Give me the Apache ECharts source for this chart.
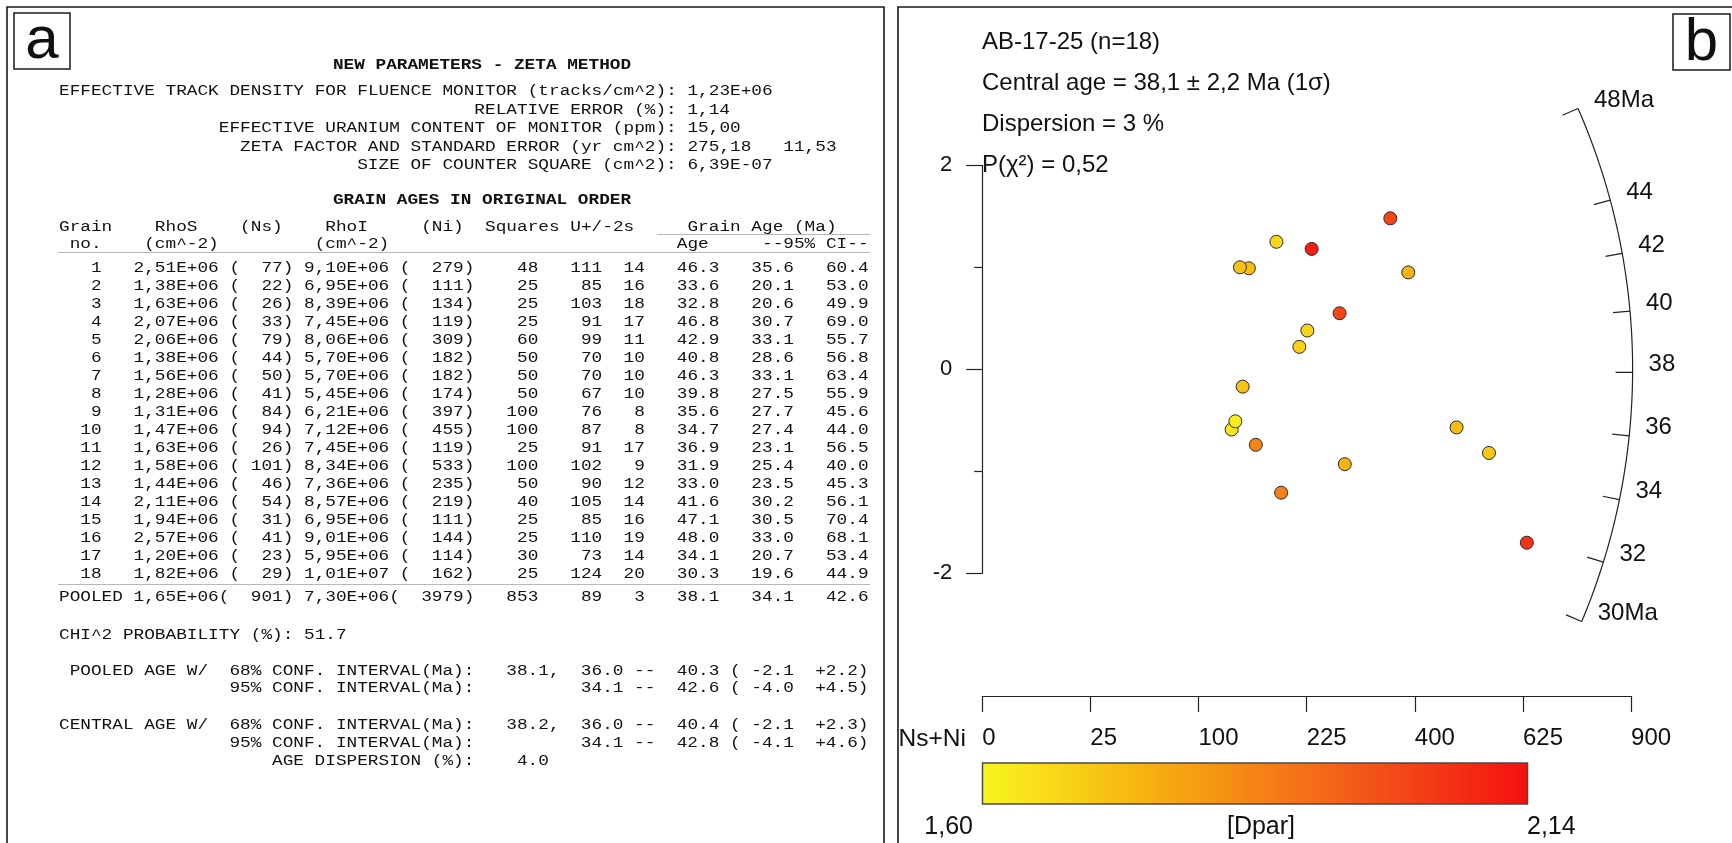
<!DOCTYPE html>
<html>
<head>
<meta charset="utf-8">
<title>AB-17-25 zeta ages and radial plot</title>
<script src="https://cdn.jsdelivr.net/npm/echarts@6.0.0/dist/echarts.min.js"></script>
<style>
html,body{margin:0;padding:0;background:#fff;}
#chart{width:1732px;height:843px;}
</style>
</head>
<body>
<div id="chart"></div>
<script>
// ---------------- DATA ----------------
const grainNo   = [1,2,3,4,5,6,7,8,9,10,11,12,13,14,15,16,17,18];
const rhoS      = ['2,51E+06','1,38E+06','1,63E+06','2,07E+06','2,06E+06','1,38E+06','1,56E+06','1,28E+06','1,31E+06','1,47E+06','1,63E+06','1,58E+06','1,44E+06','2,11E+06','1,94E+06','2,57E+06','1,20E+06','1,82E+06'];
const ns        = [77,22,26,33,79,44,50,41,84,94,26,101,46,54,31,41,23,29];
const rhoI      = ['9,10E+06','6,95E+06','8,39E+06','7,45E+06','8,06E+06','5,70E+06','5,70E+06','5,45E+06','6,21E+06','7,12E+06','7,45E+06','8,34E+06','7,36E+06','8,57E+06','6,95E+06','9,01E+06','5,95E+06','1,01E+07'];
const ni        = [279,111,134,119,309,182,182,174,397,455,119,533,235,219,111,144,114,162];
const squares   = [48,25,25,25,60,50,50,50,100,100,25,100,50,40,25,25,30,25];
const uPpm      = [111,85,103,91,99,70,70,67,76,87,91,102,90,105,85,110,73,124];
const u2s       = [14,16,18,17,11,10,10,10,8,8,17,9,12,14,16,19,14,20];
const grainAge  = ['46.3','33.6','32.8','46.8','42.9','40.8','46.3','39.8','35.6','34.7','36.9','31.9','33.0','41.6','47.1','48.0','34.1','30.3'];
const ciLow     = ['35.6','20.1','20.6','30.7','33.1','28.6','33.1','27.5','27.7','27.4','23.1','25.4','23.5','30.2','30.5','33.0','20.7','19.6'];
const ciHigh    = ['60.4','53.0','49.9','69.0','55.7','56.8','63.4','55.9','45.6','44.0','56.5','40.0','45.3','56.1','70.4','68.1','53.4','44.9'];

const pooledRow = ['1,65E+06', 901, '7,30E+06', 3979, 853, 89, 3, '38.1', '34.1', '42.6'];

const monitorParams = [
  ['EFFECTIVE TRACK DENSITY FOR FLUENCE MONITOR (tracks/cm^2):', '1,23E+06'],
  ['RELATIVE ERROR (%):', '1,14'],
  ['EFFECTIVE URANIUM CONTENT OF MONITOR (ppm):', '15,00'],
  ['ZETA FACTOR AND STANDARD ERROR (yr cm^2):', '275,18   11,53'],
  ['SIZE OF COUNTER SQUARE (cm^2):', '6,39E-07']
];
const chi2Prob        = '51.7';
const pooledAge68     = ['38.1,', '36.0', '40.3', '-2.1', '+2.2'];
const pooledAge95     = ['34.1', '42.6', '-4.0', '+4.5'];
const centralAge68    = ['38.2,', '36.0', '40.4', '-2.1', '+2.3'];
const centralAge95    = ['34.1', '42.8', '-4.1', '+4.6'];
const ageDispersion   = '4.0';

// radial plot (panel b)
const stdEstimate = [1.48,-0.59,-0.74,0.99,0.95,0.38,1.18,0.22,-0.57,-0.82,-0.17,-1.70,-0.93,0.55,1.00,1.25,-0.51,-1.21];
const dpar        = [2.02,1.63,1.87,1.735,1.76,1.68,2.11,1.69,1.73,1.71,1.72,2.06,1.76,2.02,1.72,1.67,1.62,1.88];
const sampleInfo  = ['AB-17-25 (n=18)', 'Central age = 38,1 \u00b1 2,2 Ma (1\u03c3)', 'Dispersion = 3 %', 'P(\u03c7\u00b2) = 0,52'];
const centralAge  = 38.1;
const pooledAge   = 38.1;
const ageTicks      = [30,32,34,36,38,40,42,44,48];
const ageTickLabels = ['30Ma','32','34','36','38','40','42','44','48Ma'];
const arcRadius     = 30.07;
const precTicks     = [0,5,10,15,20,25,30];
const nsNiTickLabels = ['0','25','100','225','400','625','900'];
const dparRange     = [1.60, 2.14];
const dparRangeLabels = ['1,60', '2,14'];
const dparColors = ['#f9f41f','#f8d91a','#f7bd12','#f6a112','#f58416','#f46818','#f34b18','#f32e14','#f50f10'];

// ---------------- HELPERS ----------------
const MONO = '"Liberation Mono","DejaVu Sans Mono",monospace';
const SANS = '"Liberation Sans",Arial,sans-serif';
const X0 = 59, CW = 10.65, MFS = 15.5, MSX = CW / (0.6 * MFS);

function pad(v, n){ v = String(v); while (v.length < n) v = ' ' + v; return v; }
function place(tokens){
  const arr = [];
  tokens.forEach(([s, c]) => {
    while (arr.length < c) arr.push(' ');
    for (let i = 0; i < s.length; i++) arr[c + i] = s[i];
  });
  for (let i = 0; i < arr.length; i++) if (arr[i] === undefined) arr[i] = ' ';
  return arr.join('');
}
function txt(style){ return Object.assign({align: style.textAlign, verticalAlign: style.textVerticalAlign}, style); }
function mono(str, col, y, bold){
  return {type:'text', x: X0 + col * CW, y: y, scaleX: MSX, silent: true,
    style: txt({text: str, font: (bold ? 'bold ' : '') + MFS + 'px ' + MONO, fill: '#111', textAlign: 'left', textVerticalAlign: 'middle'})};
}
function monoCenter(str, cx, y, bold){
  return {type:'text', x: cx, y: y, scaleX: MSX, silent: true,
    style: txt({text: str, font: (bold ? 'bold ' : '') + MFS + 'px ' + MONO, fill: '#111', textAlign: 'center', textVerticalAlign: 'middle'})};
}
function sans(str, x, y, size, align){
  return {type:'text', x: x, y: y, silent: true,
    style: txt({text: str, font: size + 'px ' + SANS, fill: '#111', textAlign: align || 'left', textVerticalAlign: 'middle'})};
}
function hline(x1, x2, y, color, w){
  return {type:'line', silent:true, shape:{x1:x1, y1:y, x2:x2, y2:y}, style:{stroke:color, lineWidth:w}};
}

// ---------------- PANEL A TEXT ----------------
const g = [];
g.push({type:'rect', silent:true, shape:{x:7, y:7, width:877, height:900}, style:{fill:'none', stroke:'#1a1a1a', lineWidth:1.6}});
g.push({type:'rect', silent:true, shape:{x:898, y:7, width:900, height:900}, style:{fill:'none', stroke:'#1a1a1a', lineWidth:1.6}});
g.push({type:'rect', silent:true, shape:{x:14, y:13, width:56, height:56}, style:{fill:'#fff', stroke:'#1a1a1a', lineWidth:1.5}});
g.push(sans('a', 42, 41, 60, 'center'));
g.push({type:'rect', silent:true, shape:{x:1673, y:14, width:57, height:56}, style:{fill:'#fff', stroke:'#1a1a1a', lineWidth:1.5}});
g.push(sans('b', 1701.5, 43, 60, 'center'));

g.push(monoCenter('NEW PARAMETERS - ZETA METHOD', 482, 65.5, true));
monitorParams.forEach((p, i) => {
  g.push(mono(place([[p[0], 58 - p[0].length], [p[1], 59]]).trimStart(), 58 - p[0].length, 91 + 18.5 * i));
});
g.push(monoCenter('GRAIN AGES IN ORIGINAL ORDER', 482, 200.5, true));

g.push(mono(place([['Grain',0],['RhoS',9],['(Ns)',17],['RhoI',25],['(Ni)',34],['Squares',40],['U+/-2s',48],['Grain Age (Ma)',59]]), 0, 227));
g.push(mono(place([['no.',1],['(cm^-2)',8],['(cm^-2)',24],['Age',58],['--95% CI--',66]]), 0, 244));
g.push(hline(657, 870, 234.5, '#b8b8b8', 1));
g.push(hline(58, 870, 252.5, '#b8b8b8', 1));

grainNo.forEach((n, i) => {
  const row = pad(n,4) + '   ' + rhoS[i] + ' (' + pad(ns[i],4) + ') ' + rhoI[i] + ' (' + pad(ni[i],5) + ')' +
    pad(squares[i],6) + pad(uPpm[i],6) + pad(u2s[i],4) + pad(grainAge[i],7) + pad(ciLow[i],7) + pad(ciHigh[i],7);
  g.push(mono(row, 0, 267.5 + 18 * i));
});
g.push(hline(58, 870, 584.5, '#b8b8b8', 1));
const pr = pooledRow;
g.push(mono('POOLED ' + pr[0] + '(' + pad(pr[1],5) + ') ' + pr[2] + '(' + pad(pr[3],6) + ')' +
  pad(pr[4],6) + pad(pr[5],6) + pad(pr[6],4) + pad(pr[7],7) + pad(pr[8],7) + pad(pr[9],7), 0, 596.5));

g.push(mono('CHI^2 PROBABILITY (%): ' + chi2Prob, 0, 634.5));
function ci68(a){ return place([[a[0],42],[a[1],49],['--',54],[a[2],58],['(',63],[a[3],65],[a[4]+')',71]]).slice(42); }
function ci95(a){ return place([[a[0],49],['--',54],[a[1],58],['(',63],[a[2],65],[a[3]+')',71]]).slice(49); }
g.push(mono(place([['POOLED AGE W/',1],['68% CONF. INTERVAL(Ma):',16]]).trimStart(), 1, 671));
g.push(mono(ci68(pooledAge68), 42, 671));
g.push(mono('95% CONF. INTERVAL(Ma):', 16, 688));
g.push(mono(ci95(pooledAge95), 49, 688));
g.push(mono(place([['CENTRAL AGE W/',0],['68% CONF. INTERVAL(Ma):',16]]), 0, 724.5));
g.push(mono(ci68(centralAge68), 42, 724.5));
g.push(mono('95% CONF. INTERVAL(Ma):', 16, 742.5));
g.push(mono(ci95(centralAge95), 49, 742.5));
g.push(mono('AGE DISPERSION (%):', 20, 760.5));
g.push(mono(ageDispersion, 43, 760.5));

// ---------------- PANEL B TEXT ----------------
const infoY = [42, 83, 124.5, 165.5];
sampleInfo.forEach((s, i) => g.push(sans(s, 982, infoY[i], 24, 'left')));
g.push(sans('Ns+Ni', 966, 739, 24.5, 'right'));

// colour bar (same colours as the visualMap that colours the points)
const stops = dparColors.map((c, i) => ({offset: i / (dparColors.length - 1), color: c}));
g.push({type:'rect', silent:true, shape:{x:982.5, y:763, width:545, height:41},
  style:{fill: new echarts.graphic.LinearGradient(0,0,1,0,stops), stroke:'#4a4a4a', lineWidth:1.5}});
g.push(sans(dparRangeLabels[0], 973, 827, 25, 'right'));
g.push(sans('[Dpar]', 1261, 827, 25, 'center'));
g.push(sans(dparRangeLabels[1], 1527, 827, 25, 'left'));

// ---------------- RADIAL PLOT GEOMETRY ----------------
const ratioPerMa = (pooledRow[1] / pooledRow[3]) / pooledAge;
function zOf(t){ const r = ratioPerMa * t; return Math.asin(Math.sqrt(r / (1 + r))); }
function geom(api){
  const o = api.coord([0,0]), px = api.coord([1,0]), py = api.coord([0,1]);
  return {o: o, ux: px[0] - o[0], uy: o[1] - py[1]};
}
function agePoint(t, gm, rad){
  const phi = Math.atan(2 * (zOf(t) - zOf(centralAge)) * gm.uy / gm.ux);
  return [gm.o[0] + rad * Math.cos(phi), gm.o[1] - rad * Math.sin(phi), phi];
}

const points = grainNo.map((n, i) => [Math.sqrt(ns[i] + ni[i]), stdEstimate[i], dpar[i], n]);

const GL = 982.2, GW = 648.9;
const option = {
  animation: false,
  backgroundColor: '#ffffff',
  grid: [
    {left: GL, top: 165.3, width: GW, height: 408, outerBoundsMode: 'none', containLabel: false},
    {left: GL, top: 680, width: GW, height: 16, outerBoundsMode: 'none', containLabel: false}
  ],
  xAxis: [
    {gridIndex: 0, type: 'value', min: 0, max: 30, show: false},
    {gridIndex: 1, type: 'value', min: 0, max: 30, interval: 5, position: 'bottom',
      axisLine: {show: true, onZero: false, lineStyle: {color: '#222', width: 1.2}},
      axisTick: {show: true, length: 16, lineStyle: {color: '#222', width: 1.2}},
      splitLine: {show: false},
      axisLabel: {show: true, align: 'left', margin: 30, color: '#111', fontSize: 24, fontFamily: SANS,
        formatter: v => { const k = precTicks.indexOf(v); return k >= 0 ? nsNiTickLabels[k] : ''; }}}
  ],
  yAxis: [
    {gridIndex: 0, type: 'value', min: -2, max: 2, interval: 2,
      axisLine: {show: true, onZero: false, lineStyle: {color: '#222', width: 1.2}},
      axisTick: {show: true, length: 16, lineStyle: {color: '#222', width: 1.2}},
      minorTick: {show: true, splitNumber: 2, length: 8, lineStyle: {color: '#222', width: 1.2}},
      splitLine: {show: false}, minorSplitLine: {show: false},
      axisLabel: {show: true, margin: 30, color: '#111', fontSize: 22, fontFamily: SANS}},
    {gridIndex: 1, type: 'value', show: false, min: 0, max: 1}
  ],
  visualMap: {
    type: 'continuous', show: false, min: dparRange[0], max: dparRange[1],
    dimension: 2, seriesIndex: 0, inRange: {color: dparColors}
  },
  series: [
    {type: 'scatter', xAxisIndex: 0, yAxisIndex: 0, data: points, symbol: 'circle', symbolSize: 13,
      itemStyle: {borderColor: '#2a2a2a', borderWidth: 1, opacity: 1}, silent: true, z: 5},
    {type: 'custom', xAxisIndex: 0, yAxisIndex: 0, data: [[0, 0]], silent: true, clip: false,
      renderItem: (params, api) => {
        const gm = geom(api), R = arcRadius * gm.ux, pts = [];
        for (let t = ageTicks[0]; t <= ageTicks[ageTicks.length - 1] + 1e-9; t += 0.1) pts.push(agePoint(t, gm, R).slice(0, 2));
        return {type: 'polyline', shape: {points: pts}, style: {stroke: '#222', lineWidth: 1.2, fill: null}};
      }},
    {type: 'custom', xAxisIndex: 0, yAxisIndex: 0, data: ageTicks.map(t => [0, 0, t]), silent: true, clip: false,
      encode: {x: 0, y: 1},
      renderItem: (params, api) => {
        const gm = geom(api), R = arcRadius * gm.ux;
        const p = agePoint(api.value(2), gm, R);
        const q = [gm.o[0] + (R - 17) * Math.cos(p[2]), gm.o[1] - (R - 17) * Math.sin(p[2])];
        return {type: 'group', children: [
          {type: 'line', shape: {x1: p[0], y1: p[1], x2: q[0], y2: q[1]}, style: {stroke: '#222', lineWidth: 1.2}},
          {type: 'text', x: p[0] + 16, y: p[1] - 8,
            style: txt({text: ageTickLabels[params.dataIndex], fill: '#111', font: '24px ' + SANS, textAlign: 'left', textVerticalAlign: 'middle'})}
        ]};
      }}
  ],
  graphic: {elements: g}
};

const chart = echarts.init(document.getElementById('chart'), null, {renderer: 'canvas', width: 1732, height: 843});
chart.setOption(option);
</script>
</body>
</html>
